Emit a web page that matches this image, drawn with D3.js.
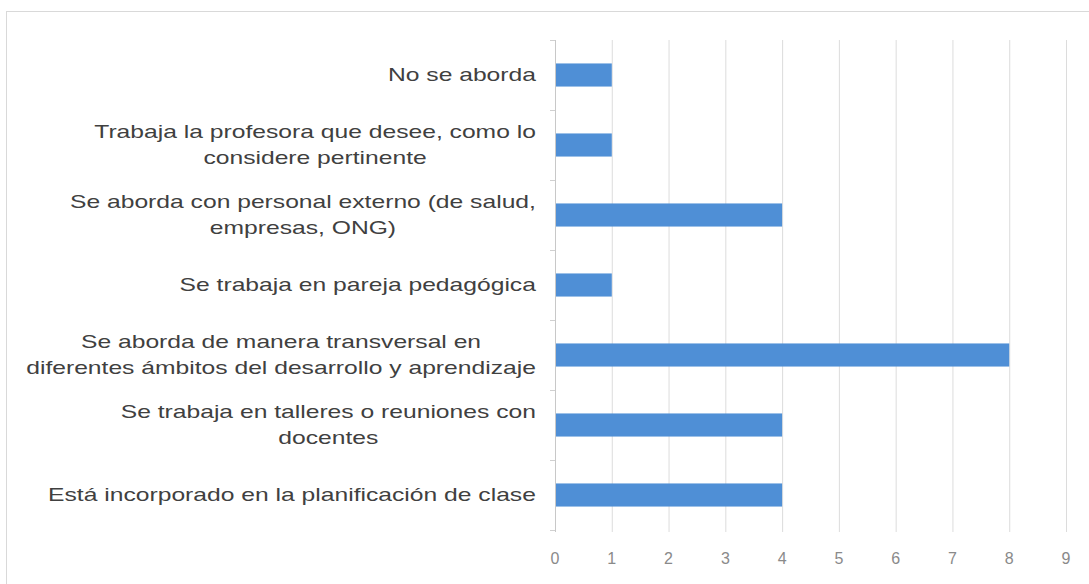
<!DOCTYPE html>
<html>
<head>
<meta charset="utf-8">
<script src="https://cdn.jsdelivr.net/npm/d3@7"></script>
<style>
  body { margin: 0; background: #fff; }
  svg { display: block; font-family: "Liberation Sans", Arial, sans-serif; }
</style>
</head>
<body>
<div class="container"></div>
<script>
const categories = [
    ['No se aborda'],
    ['Trabaja la profesora que desee, como lo', 'considere pertinente'],
    ['Se aborda con personal externo (de salud,', 'empresas, ONG)'],
    ['Se trabaja en pareja pedagógica'],
    ['Se aborda de manera transversal en', 'diferentes ámbitos del desarrollo y aprendizaje'],
    ['Se trabaja en talleres o reuniones con', 'docentes'],
    ['Está incorporado en la planificación de clase']
];
const values = [1, 1, 4, 1, 8, 4, 4];
const xTicks = [0, 1, 2, 3, 4, 5, 6, 7, 8, 9];

const width = 1089,
    height = 584,
    margin = {top: 40, right: 23, bottom: 54, left: 555},
    labelRight = 536,
    labelStretch = 1.37,
    lineGap = 26;

const svg = d3.select('.container')
    .append('svg')
    .attr('width', width)
    .attr('height', height);

// outer chart frame
svg.append('rect')
    .attr('x', 6.5)
    .attr('y', 11.5)
    .attr('width', width)
    .attr('height', height)
    .attr('fill', 'none')
    .attr('stroke', '#d9d9d9');

const keys = categories.map((c, i) => i);

const xScale = d3.scaleLinear()
    .domain([0, 9])
    .range([margin.left, width - margin.right]);

const yScale = d3.scaleBand()
    .domain(keys)
    .range([margin.top, height - margin.bottom])
    .paddingInner(0.67)
    .paddingOuter(0.335);

const step = yScale.step();
const plotBottom = height - margin.bottom;

// vertical gridlines
svg.append('g')
    .selectAll('line')
    .data(xTicks.slice(1))
    .join('line')
    .attr('x1', d => xScale(d) + 0.5)
    .attr('x2', d => xScale(d) + 0.5)
    .attr('y1', margin.top)
    .attr('y2', plotBottom + 2)
    .attr('stroke', '#dcdcdc');

// x tick labels
svg.append('g')
    .selectAll('text')
    .data(xTicks)
    .join('text')
    .attr('x', d => xScale(d))
    .attr('y', plotBottom + 34)
    .attr('text-anchor', 'middle')
    .attr('font-size', 16)
    .attr('fill', '#8a8a8a')
    .text(d => d);

// y axis line with ticks between categories
svg.append('line')
    .attr('x1', margin.left + 0.5)
    .attr('x2', margin.left + 0.5)
    .attr('y1', margin.top)
    .attr('y2', plotBottom + 2)
    .attr('stroke', '#c8c8c8');

svg.append('g')
    .selectAll('line')
    .data(d3.range(categories.length + 1))
    .join('line')
    .attr('x1', margin.left - 5)
    .attr('x2', margin.left)
    .attr('y1', i => margin.top + i * step + 0.5)
    .attr('y2', i => margin.top + i * step + 0.5)
    .attr('stroke', '#d0d0d0');

// bars
svg.append('g')
    .selectAll('rect')
    .data(values)
    .join('rect')
    .attr('x', xScale(0) + 1)
    .attr('y', (d, i) => yScale(i))
    .attr('width', d => xScale(d) - xScale(0) - 1)
    .attr('height', yScale.bandwidth())
    .attr('fill', '#4f8fd6');

// category labels, multi-line ones centred on their widest line
const labels = svg.append('g');
categories.forEach((lines, i) => {
    const cy = yScale(i) + yScale.bandwidth() / 2;
    const g = labels.append('g');
    const texts = lines.map((line, j) => g.append('text')
        .attr('y', cy + (j - (lines.length - 1) / 2) * lineGap)
        .attr('dy', '0.35em')
        .attr('text-anchor', 'middle')
        .attr('font-size', 18)
        .attr('fill', '#404040')
        .text(line));
    const maxW = d3.max(texts, t => t.node().getComputedTextLength());
    g.attr('transform', `translate(${labelRight - maxW * labelStretch / 2}, 0) scale(${labelStretch}, 1)`);
});
</script>
</body>
</html>
